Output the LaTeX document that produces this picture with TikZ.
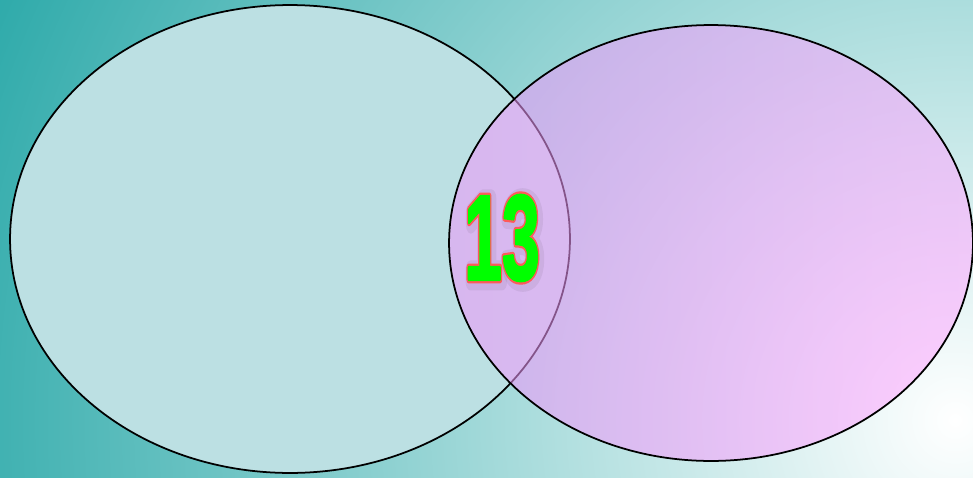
\documentclass[tikz,border=0pt]{standalone}
\usepackage{fontspec}
\setmainfont{Liberation Sans}
\usetikzlibrary{calc}

\definecolor{bgteal}{HTML}{2EAAAA}
\definecolor{setcyan}{HTML}{BCE0E3}
\definecolor{setlav}{HTML}{EE96FA}
\definecolor{setpink}{HTML}{FFA8FF}
\definecolor{numgreen}{HTML}{00FF00}

% text filled and stroked: #1 stroke colour (rgb), #2 stroke width, #3 text
\newcommand{\strokedtext}[3]{%
  \special{pdf:literal direct #1 RG #2 w 1 j 2 Tr}#3\special{pdf:literal direct 0 Tr}}
\newcommand{\countlabel}{\scalebox{0.56}[1]{13}}

\begin{document}
\begin{tikzpicture}[x=0.02cm, y=-0.02cm,
    venn/.style={draw=black, line width=1pt},
    numtext/.style={font=\fontsize{69}{69}\selectfont\bfseries, inner sep=0pt}]
    % page and background glow
    \useasboundingbox (0,0) rectangle (973,477);
    \clip (0,0) rectangle (973,477);
    \shade[inner color=white, outer color=bgteal] (955,420) circle (21cm);

    % the two sets
    \draw[venn, fill=setcyan] (290,239) ellipse (5.6cm and 4.68cm);
    \shade[left color=setlav, right color=setpink, fill opacity=0.55]
        (711,243) ellipse (5.24cm and 4.36cm);
    \draw[venn] (711,243) ellipse (5.24cm and 4.36cm);

    % count in the overlap
    \coordinate (mid) at (502,238);
    \node[numtext, text=black, opacity=0.06] (glow) at ($(mid)+(2,2)$)
        {\strokedtext{0 0 0}{10}{\countlabel}};
    \node[numtext, text=numgreen] (rim) at (mid)
        {\strokedtext{1 0.35 0.35}{4.2}{\countlabel}};
    \node[numtext, text=numgreen] (count) at (mid)
        {\strokedtext{0 1 0}{1.6}{\countlabel}};
\end{tikzpicture}
\end{document}
